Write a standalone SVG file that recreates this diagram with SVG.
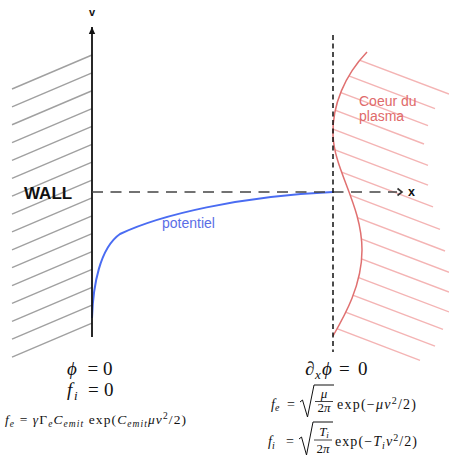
<svg xmlns="http://www.w3.org/2000/svg" width="449" height="459" viewBox="0 0 449 459">
<style>
.hatch{stroke:#a0a0a0;stroke-width:1.4;fill:none}
.phatch{stroke:#f4b4b4;stroke-width:1.4;fill:none}
.axis{stroke:#111;stroke-width:1.8;fill:none}
.lbl{font-family:"Liberation Sans",Arial,sans-serif;font-weight:bold;fill:#111}
.m{font-family:"Liberation Serif","Times New Roman",serif;fill:#111}
.i{font-style:italic}
</style>
<defs>
<marker id="arrV" markerWidth="8" markerHeight="8" refX="7" refY="4" orient="auto" markerUnits="userSpaceOnUse">
<path d="M0,0.8 L7,4 L0,7.2 Z" fill="#111"/>
</marker>
<clipPath id="plasmaClip">
<path d="M367,52 C345,75 332,105 333,135 C334,170 362,205 362,250 C362,285 345,315 333,336 L333,460 L449,460 L449,0 L367,0 Z"/>
</clipPath>
</defs>
<rect width="449" height="459" fill="#fff"/>

<g id="wall">
<g class="hatch">
<line x1="12" y1="89" x2="92" y2="55"/>
<line x1="12" y1="106.87" x2="92" y2="72.87"/>
<line x1="12" y1="124.74" x2="92" y2="90.74"/>
<line x1="12" y1="142.61" x2="92" y2="108.61"/>
<line x1="12" y1="160.48" x2="92" y2="126.48"/>
<line x1="12" y1="178.35" x2="92" y2="144.35"/>
<line x1="12" y1="196.22" x2="92" y2="162.22"/>
<line x1="12" y1="214.09" x2="92" y2="180.09"/>
<line x1="12" y1="231.96" x2="92" y2="197.96"/>
<line x1="12" y1="249.83" x2="92" y2="215.83"/>
<line x1="12" y1="267.7" x2="92" y2="233.7"/>
<line x1="12" y1="285.57" x2="92" y2="251.57"/>
<line x1="12" y1="303.44" x2="92" y2="269.44"/>
<line x1="12" y1="321.31" x2="92" y2="287.31"/>
<line x1="12" y1="339.18" x2="92" y2="305.18"/>
<line x1="12" y1="357.05" x2="92" y2="323.05"/>
</g>
<text class="lbl" x="24" y="198.5" font-size="17">WALL</text>
</g>

<g id="plasma">
<g class="phatch" clip-path="url(#plasmaClip)">
<line x1="330" y1="48.9" x2="449" y2="94.1"/>
<line x1="330" y1="68.7" x2="435" y2="108.6"/>
<line x1="330" y1="88.5" x2="428" y2="125.7"/>
<line x1="330" y1="108.3" x2="424" y2="144"/>
<line x1="330" y1="128.1" x2="428" y2="165.3"/>
<line x1="330" y1="147.9" x2="428" y2="185.1"/>
<line x1="330" y1="167.7" x2="433" y2="206.8"/>
<line x1="330" y1="187.5" x2="440" y2="229.3"/>
<line x1="330" y1="207.3" x2="445" y2="251"/>
<line x1="330" y1="227.1" x2="449" y2="272.3"/>
<line x1="330" y1="246.9" x2="449" y2="292.1"/>
<line x1="330" y1="266.7" x2="449" y2="311.9"/>
<line x1="330" y1="286.5" x2="443" y2="329.4"/>
<line x1="330" y1="306.3" x2="435" y2="346.2"/>
<line x1="330" y1="326.1" x2="420" y2="360.3"/>
</g>
<path d="M367,52 C345,75 332,105 333,135 C334,170 362,205 362,250 C362,285 345,315 333,336" fill="none" stroke="#e07070" stroke-width="1.5"/>
<text x="359" y="106" font-family="Liberation Sans,Arial,sans-serif" font-size="14" fill="#e06a6a">Coeur du</text>
<text x="359" y="121" font-family="Liberation Sans,Arial,sans-serif" font-size="14" fill="#e06a6a">plasma</text>
</g>

<g id="potential">
<path d="M92,318 C93,285 100,248 120,234 C160,215 240,196 333,192" fill="none" stroke="#4a6cf2" stroke-width="2"/>
<text x="162" y="228" font-family="Liberation Sans,Arial,sans-serif" font-size="14" fill="#5a6ee6">potentiel</text>
</g>

<g id="connectors">
<line class="axis" x1="92" y1="337" x2="92" y2="27" marker-end="url(#arrV)"/>
<line x1="92" y1="192" x2="397" y2="192" stroke="#444" stroke-width="1.6" stroke-dasharray="11 7.5"/>
<path d="M397.5,188.5 L402,192 L397.5,195.5" fill="none" stroke="#333" stroke-width="1.6"/>
<line x1="333" y1="35" x2="333" y2="352" stroke="#111" stroke-width="1.5" stroke-dasharray="5 3.5"/>
</g>

<g id="labels">
<text class="lbl" x="92" y="16" font-size="11" text-anchor="middle">v</text>
<text class="lbl" x="411.5" y="196" font-size="12.5" text-anchor="middle">x</text>
</g>

<g id="wall-conditions" class="m">
<text y="375" font-size="19"><tspan class="i" x="67">ϕ</tspan><tspan x="87.5">=</tspan><tspan x="103">0</tspan></text>
<text y="396" font-size="19"><tspan class="i" x="67">f</tspan><tspan class="i" font-size="13" x="74" dy="4">i</tspan><tspan x="88" dy="-4">=</tspan><tspan x="104">0</tspan></text>
<text x="5" y="424" font-size="13.5" textLength="181"><tspan class="i">f</tspan><tspan class="i" font-size="9.5" dy="2.5">e</tspan><tspan dy="-2.5"> = </tspan><tspan class="i">γ</tspan>Γ<tspan class="i" font-size="9.5" dy="2.5">e</tspan><tspan class="i" dy="-2.5">C</tspan><tspan class="i" font-size="9.5" dy="2.5">emit</tspan><tspan dy="-2.5"> exp(</tspan><tspan class="i">C</tspan><tspan class="i" font-size="9.5" dy="2.5">emit</tspan><tspan class="i" dy="-2.5">μv</tspan><tspan font-size="9.5" dy="-5">2</tspan><tspan dy="5">/2)</tspan></text>
</g>

<g id="core-conditions" class="m">
<text y="375" font-size="19"><tspan x="305">∂</tspan><tspan class="i" font-size="13" x="315" dy="4">x</tspan><tspan class="i" x="322" dy="-4">ϕ</tspan><tspan x="339">=</tspan><tspan x="358">0</tspan></text>
<text x="271" y="408.5" font-size="14"><tspan class="i">f</tspan><tspan class="i" font-size="10" dy="2.5">e</tspan><tspan x="287" dy="-2.5">=</tspan></text>
<path d="M300,402 L302.5,400 L307.5,417 L314,385 L334,385" fill="none" stroke="#111" stroke-width="1"/>
<text x="324" y="398" font-size="13" text-anchor="middle" class="i">μ</text>
<line x1="315" y1="401.5" x2="333" y2="401.5" stroke="#111" stroke-width="0.8"/>
<text x="324" y="412" font-size="13" text-anchor="middle">2<tspan class="i">π</tspan></text>
<text x="337" y="408.5" font-size="14" textLength="79">exp(−<tspan class="i">μv</tspan><tspan font-size="10" dy="-5">2</tspan><tspan dy="5">/2)</tspan></text>

<text x="268" y="446" font-size="14"><tspan class="i">f</tspan><tspan class="i" font-size="10" dy="2.5">i</tspan><tspan x="286" dy="-2.5">=</tspan></text>
<path d="M299,439 L301.5,437 L306.5,455 L313,422 L333,422" fill="none" stroke="#111" stroke-width="1"/>
<text x="324" y="436" font-size="13" text-anchor="middle"><tspan class="i">T</tspan><tspan class="i" font-size="9" dy="2">i</tspan></text>
<line x1="314" y1="440" x2="332" y2="440" stroke="#111" stroke-width="0.8"/>
<text x="323" y="453" font-size="13" text-anchor="middle">2<tspan class="i">π</tspan></text>
<text x="335" y="446" font-size="14" textLength="82">exp(−<tspan class="i">T</tspan><tspan class="i" font-size="10" dy="2.5">i</tspan><tspan class="i" dy="-2.5">v</tspan><tspan font-size="10" dy="-5">2</tspan><tspan dy="5">/2)</tspan></text>
</g>
</svg>
